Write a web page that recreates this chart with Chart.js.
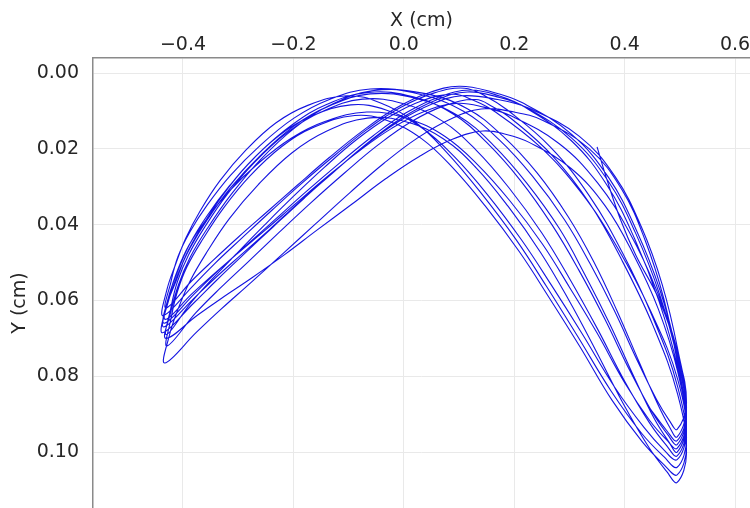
<!DOCTYPE html>
<html>
<head>
<meta charset="utf-8">
<title>X / Y trace</title>
<script src="https://cdn.jsdelivr.net/npm/chart.js@4.4.1/dist/chart.umd.min.js"></script>
<style>
  html, body { margin: 0; padding: 0; background: #fff; overflow: hidden; }
  #wrap { width: 750px; height: 508px; overflow: hidden; position: relative; }
  canvas { display: block; }
</style>
</head>
<body>
<div id="wrap"><canvas id="trace" width="750" height="548"></canvas></div>
<script>
// --- Data (cm): [x, y] pairs, one array per loop ---
// each loop: right bottom -> left arch -> left tip -> right arch -> next bottom

const startRun = [[0.350,0.0195],[0.368,0.0282],[0.392,0.0385],[0.420,0.0480],[0.463,0.0600],[0.496,0.0740],[0.512,0.0870]];

const loop1 = [[0.495,0.0940],[0.481,0.0917],[0.458,0.0862],[0.423,0.0759],[0.381,0.0626],[0.337,0.0502],[0.291,0.0387],[0.233,0.0272],[0.172,0.0175],[0.108,0.0101],[0.029,0.0056],[-0.061,0.0042],[-0.137,0.0071],[-0.199,0.0119],[-0.261,0.0192],[-0.314,0.0270],[-0.356,0.0348],[-0.387,0.0418],[-0.409,0.0484],[-0.422,0.0552],[-0.431,0.0620],
  [-0.384,0.0548],[-0.346,0.0495],[-0.299,0.0432],[-0.246,0.0364],[-0.193,0.0296],[-0.135,0.0223],[-0.076,0.0154],[-0.017,0.0095],[0.044,0.0053],[0.100,0.0035],[0.160,0.0050],[0.214,0.0078],[0.304,0.0162],[0.371,0.0276],[0.421,0.0414],[0.464,0.0573],[0.496,0.0748],[0.512,0.0903]];

const loop2 = [[0.495,0.0980],[0.478,0.0954],[0.450,0.0895],[0.410,0.0787],[0.364,0.0649],[0.317,0.0520],[0.269,0.0402],[0.211,0.0283],[0.150,0.0183],[0.090,0.0109],[0.017,0.0063],[-0.064,0.0051],[-0.140,0.0083],[-0.201,0.0135],[-0.263,0.0212],[-0.315,0.0296],[-0.357,0.0378],[-0.388,0.0452],[-0.409,0.0521],[-0.426,0.0590],[-0.434,0.0660],
  [-0.379,0.0582],[-0.339,0.0525],[-0.288,0.0458],[-0.232,0.0385],[-0.177,0.0313],[-0.116,0.0237],[-0.056,0.0166],[0.004,0.0105],[0.064,0.0063],[0.120,0.0045],[0.172,0.0060],[0.219,0.0090],[0.303,0.0178],[0.368,0.0296],[0.418,0.0437],[0.462,0.0601],[0.496,0.0778],[0.512,0.0933]];

const loop3 = [[0.495,0.1010],[0.476,0.0983],[0.445,0.0923],[0.400,0.0813],[0.350,0.0673],[0.300,0.0542],[0.250,0.0422],[0.190,0.0302],[0.130,0.0202],[0.070,0.0127],[0.000,0.0081],[-0.075,0.0069],[-0.150,0.0103],[-0.210,0.0156],[-0.270,0.0235],[-0.320,0.0320],[-0.360,0.0405],[-0.390,0.0480],[-0.410,0.0550],[-0.422,0.0620],[-0.430,0.0690],
  [-0.386,0.0607],[-0.350,0.0548],[-0.304,0.0478],[-0.253,0.0402],[-0.201,0.0327],[-0.144,0.0249],[-0.086,0.0176],[-0.027,0.0116],[0.033,0.0073],[0.090,0.0056],[0.126,0.0072],[0.166,0.0103],[0.247,0.0195],[0.322,0.0317],[0.387,0.0461],[0.447,0.0628],[0.496,0.0808],[0.512,0.0963]];

const loop4 = [[0.495,0.1040],[0.471,0.1012],[0.431,0.0951],[0.375,0.0838],[0.315,0.0695],[0.258,0.0562],[0.203,0.0439],[0.139,0.0315],[0.078,0.0210],[0.021,0.0130],[-0.042,0.0079],[-0.103,0.0060],[-0.175,0.0086],[-0.232,0.0132],[-0.287,0.0205],[-0.333,0.0284],[-0.369,0.0364],[-0.395,0.0436],[-0.413,0.0503],[-0.429,0.0571],[-0.436,0.0640],
  [-0.381,0.0560],[-0.342,0.0502],[-0.293,0.0435],[-0.239,0.0362],[-0.185,0.0291],[-0.125,0.0217],[-0.066,0.0148],[-0.006,0.0091],[0.054,0.0053],[0.110,0.0040],[0.148,0.0061],[0.187,0.0097],[0.266,0.0196],[0.336,0.0324],[0.396,0.0474],[0.451,0.0645],[0.496,0.0828],[0.512,0.0983]];

const loop5 = [[0.495,0.1060],[0.471,0.1033],[0.432,0.0973],[0.377,0.0863],[0.319,0.0722],[0.263,0.0592],[0.209,0.0471],[0.147,0.0350],[0.088,0.0249],[0.032,0.0173],[-0.029,0.0126],[-0.089,0.0112],[-0.163,0.0143],[-0.221,0.0194],[-0.279,0.0272],[-0.326,0.0355],[-0.364,0.0438],[-0.393,0.0512],[-0.411,0.0581],[-0.422,0.0650],[-0.429,0.0720],
  [-0.377,0.0633],[-0.335,0.0571],[-0.282,0.0498],[-0.225,0.0419],[-0.169,0.0343],[-0.107,0.0263],[-0.046,0.0189],[0.014,0.0128],[0.074,0.0086],[0.130,0.0070],[0.161,0.0089],[0.196,0.0122],[0.269,0.0218],[0.337,0.0345],[0.395,0.0494],[0.451,0.0665],[0.496,0.0848],[0.512,0.1003]];

const loop6 = [[0.495,0.1080],[0.476,0.1051],[0.444,0.0988],[0.398,0.0874],[0.347,0.0730],[0.298,0.0597],[0.248,0.0474],[0.189,0.0352],[0.131,0.0250],[0.072,0.0174],[0.005,0.0129],[-0.066,0.0119],[-0.142,0.0155],[-0.203,0.0211],[-0.264,0.0295],[-0.316,0.0384],[-0.357,0.0473],[-0.388,0.0551],[-0.409,0.0623],[-0.425,0.0694],[-0.433,0.0765],
  [-0.375,0.0683],[-0.331,0.0623],[-0.277,0.0553],[-0.218,0.0475],[-0.160,0.0398],[-0.098,0.0316],[-0.036,0.0238],[0.025,0.0171],[0.085,0.0121],[0.140,0.0095],[0.200,0.0103],[0.253,0.0126],[0.336,0.0200],[0.395,0.0308],[0.437,0.0441],[0.471,0.0596],[0.496,0.0768],[0.512,0.0923]];

const loop7 = [[0.495,0.1000],[0.480,0.0973],[0.454,0.0913],[0.417,0.0802],[0.373,0.0662],[0.328,0.0532],[0.282,0.0411],[0.223,0.0291],[0.162,0.0190],[0.100,0.0114],[0.024,0.0068],[-0.061,0.0055],[-0.137,0.0088],[-0.199,0.0140],[-0.261,0.0219],[-0.314,0.0303],[-0.356,0.0387],[-0.387,0.0461],[-0.409,0.0530],[-0.426,0.0600],[-0.435,0.0670],
  [-0.382,0.0597],[-0.344,0.0544],[-0.296,0.0481],[-0.242,0.0411],[-0.189,0.0340],[-0.130,0.0265],[-0.071,0.0192],[-0.011,0.0129],[0.049,0.0083],[0.105,0.0060],[0.170,0.0070],[0.227,0.0093],[0.318,0.0167],[0.383,0.0274],[0.430,0.0405],[0.468,0.0558],[0.496,0.0728],[0.512,0.0883]];

const loop8 = [[0.495,0.0960],[0.481,0.0933],[0.460,0.0874],[0.427,0.0765],[0.386,0.0627],[0.344,0.0498],[0.298,0.0380],[0.241,0.0263],[0.179,0.0166],[0.115,0.0094],[0.034,0.0053],[-0.058,0.0047],[-0.135,0.0086],[-0.197,0.0144],[-0.260,0.0229],[-0.312,0.0319],[-0.355,0.0408],[-0.387,0.0486],[-0.408,0.0558],[-0.422,0.0630],[-0.431,0.0700],
  [-0.374,0.0639],[-0.330,0.0594],[-0.275,0.0540],[-0.216,0.0479],[-0.158,0.0415],[-0.095,0.0347],[-0.033,0.0279],[0.028,0.0220],[0.088,0.0175],[0.143,0.0153],[0.186,0.0162],[0.227,0.0183],[0.303,0.0252],[0.365,0.0351],[0.415,0.0476],[0.461,0.0623],[0.496,0.0788],[0.512,0.0943]];

const loop9 = [[0.495,0.1020],[0.471,0.0994],[0.435,0.0935],[0.381,0.0827],[0.323,0.0688],[0.267,0.0559],[0.213,0.0440],[0.151,0.0320],[0.091,0.0220],[0.033,0.0145],[-0.031,0.0098],[-0.096,0.0084],[-0.169,0.0115],[-0.226,0.0165],[-0.283,0.0242],[-0.329,0.0324],[-0.366,0.0406],[-0.394,0.0479],[-0.412,0.0547],[-0.430,0.0616],[-0.437,0.0685],
  [-0.380,0.0606],[-0.340,0.0548],[-0.291,0.0480],[-0.236,0.0405],[-0.181,0.0331],[-0.121,0.0253],[-0.061,0.0179],[-0.001,0.0116],[0.059,0.0071],[0.115,0.0050],[0.169,0.0063],[0.219,0.0089],[0.304,0.0172],[0.370,0.0285],[0.420,0.0423],[0.463,0.0583],[0.496,0.0758],[0.512,0.0913]];

const loop10 = [[0.495,0.0990],[0.476,0.0968],[0.445,0.0916],[0.400,0.0817],[0.350,0.0686],[0.300,0.0565],[0.251,0.0451],[0.192,0.0337],[0.133,0.0241],[0.074,0.0167],[0.006,0.0120],[-0.067,0.0103],[-0.143,0.0128],[-0.204,0.0172],[-0.265,0.0240],[-0.317,0.0313],[-0.358,0.0387],[-0.389,0.0454],[-0.409,0.0517],[-0.424,0.0583],[-0.432,0.0650],
  [-0.385,0.0584],[-0.348,0.0535],[-0.302,0.0477],[-0.250,0.0413],[-0.197,0.0346],[-0.140,0.0275],[-0.081,0.0206],[-0.022,0.0146],[0.038,0.0101],[0.095,0.0080],[0.145,0.0090],[0.194,0.0113],[0.281,0.0186],[0.351,0.0290],[0.408,0.0419],[0.457,0.0570],[0.496,0.0738],[0.512,0.0893]];

const endRun = [[0.495,0.0970],[0.476,0.0943],[0.445,0.0883]];

// axis ranges and tick steps
const xRange = [-0.563, 0.627];
const yRange = [-0.00396, 0.1253];
const xStep = 0.2;
const yStep = 0.02;

const trace = [startRun, loop1, loop2, loop3, loop4, loop5, loop6, loop7, loop8, loop9, loop10, endRun]
    .flat()
    .map(p => ({ x: p[0], y: p[1] }));

const tickFont = { family: 'DejaVu Sans', size: 19 };
const textColor = '#262626';

new Chart(document.getElementById('trace'), {
    type: 'scatter',
    data: {
        datasets: [{
            data: trace,
            showLine: true,
            borderColor: 'rgb(20,20,225)',
            borderWidth: 1.1,
            pointRadius: 0,
            tension: 0.4,
            fill: false
        }]
    },
    options: {
        responsive: false,
        animation: false,
        layout: { padding: 0 },
        plugins: {
            legend: { display: false },
            tooltip: { enabled: false }
        },
        scales: {
            x: {
                type: 'linear',
                position: 'top',
                min: xRange[0],
                max: xRange[1],
                afterFit: s => { s.height = 58; s.paddingLeft = 0; s.paddingRight = 0; },
                grid: { color: '#e9e9e9', lineWidth: 1, drawTicks: false },
                border: { color: '#8a8a8a', width: 1.5 },
                ticks: {
                    stepSize: xStep,
                    includeBounds: false,
                    padding: 2,
                    maxRotation: 0,
                    color: textColor,
                    font: tickFont,
                    callback: v => (v < -1e-9 ? '\u2212' : '') + Math.abs(v).toFixed(1)
                },
                title: {
                    display: true,
                    text: 'X (cm)',
                    color: textColor,
                    font: tickFont,
                    padding: { top: 10, bottom: 0 }
                }
            },
            y: {
                type: 'linear',
                reverse: true,
                min: yRange[0],
                max: yRange[1],
                afterFit: s => { s.width = 93; s.paddingTop = 0; s.paddingBottom = 0; },
                grid: { color: '#e9e9e9', lineWidth: 1, drawTicks: false },
                border: { color: '#8a8a8a', width: 1.5 },
                ticks: {
                    stepSize: yStep,
                    includeBounds: false,
                    padding: 14,
                    color: textColor,
                    font: tickFont,
                    callback: v => Math.abs(v).toFixed(2)
                },
                title: {
                    display: true,
                    text: 'Y (cm)',
                    color: textColor,
                    font: tickFont,
                    padding: { top: 9, bottom: 0 }
                }
            }
        }
    }
});
</script>
</body>
</html>
